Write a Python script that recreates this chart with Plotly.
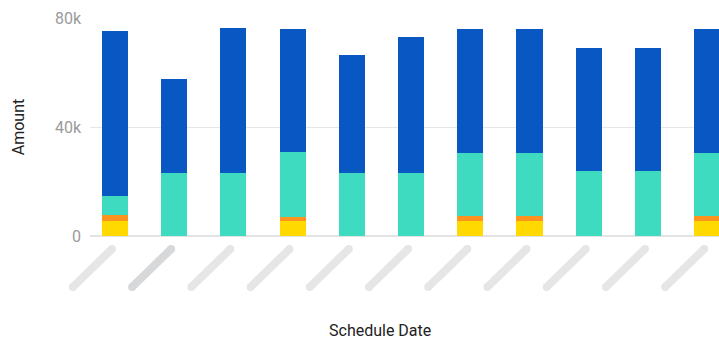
import plotly.graph_objects as go

categories = [f"d{i+1}" for i in range(11)]
yellow = [5.4, 0, 0, 5.4, 0, 0, 5.4, 5.4, 0, 0, 5.4]
orange = [2.3, 0, 0, 1.6, 0, 0, 2.0, 2.0, 0, 0, 2.0]
teal = [7.1, 23.1, 23.1, 23.8, 23.1, 23.1, 23.05, 23.05, 23.9, 23.9, 23.05]
blue = [60.4, 34.5, 53.2, 45.2, 43.3, 49.9, 45.5, 45.5, 45.1, 45.1, 45.5]
series = [
    ("Yellow", yellow, "#FFD900"),
    ("Orange", orange, "#FF9320"),
    ("Teal", teal, "#3EDBC1"),
    ("Blue", blue, "#0957C3"),
]
y_ticks = [0, 40000, 80000]
y_tick_text = ["0", "40k", "80k"]

fig = go.Figure()
for name, vals, col in series:
    fig.add_trace(go.Bar(x=categories, y=[v * 1000 for v in vals], name=name,
                         marker=dict(color=col, line=dict(width=0))))

r0, r1 = -0.42, 10.2
shapes = []
for i in range(len(categories)):
    xa = (i - r0) / (r1 - r0)
    col = "#D7D8DA" if i == 1 else "#E6E6E6"
    common = dict(xref="paper", yref="paper", xsizemode="pixel", ysizemode="pixel",
                  xanchor=xa, yanchor=0, layer="above")
    shapes.append(dict(type="line", x0=-42, x1=-3, y0=-51, y1=-13,
                       line=dict(color=col, width=8), **common))
    for (cx, cy) in [(-42, -51), (-3, -13)]:
        shapes.append(dict(type="circle", x0=cx - 4, x1=cx + 4, y0=cy - 4, y1=cy + 4,
                           fillcolor=col, line=dict(width=0), **common))

fig.update_layout(
    width=719, height=341,
    margin=dict(l=90, r=0, t=18, b=105),
    barmode="stack", bargap=0.56,
    showlegend=False,
    plot_bgcolor="white", paper_bgcolor="white",
    font=dict(family="Roboto", size=16, color="#222222"),
    shapes=shapes,
    annotations=[dict(text="Schedule Date", xref="paper", yref="paper",
                      x=(380 - 90) / 629, y=(236 - 330) / 218,
                      xanchor="center", yanchor="middle", showarrow=False,
                      font=dict(size=16, color="#222222"))],
)
fig.update_xaxes(range=[r0, r1], showticklabels=False, showgrid=False,
                 showline=False, zeroline=False, ticks="")
fig.update_yaxes(range=[0, 80000], tickvals=y_ticks, ticktext=y_tick_text,
                 showgrid=True, gridcolor="#E6E6E6", gridwidth=1,
                 zeroline=True, zerolinecolor="#E3E3E3", zerolinewidth=2,
                 tickfont=dict(size=16, color="#9A9A9A"), ticklabelstandoff=8,
                 title=dict(text="Amount", font=dict(size=16, color="#222222"), standoff=26))

fig.write_html("out.html")
